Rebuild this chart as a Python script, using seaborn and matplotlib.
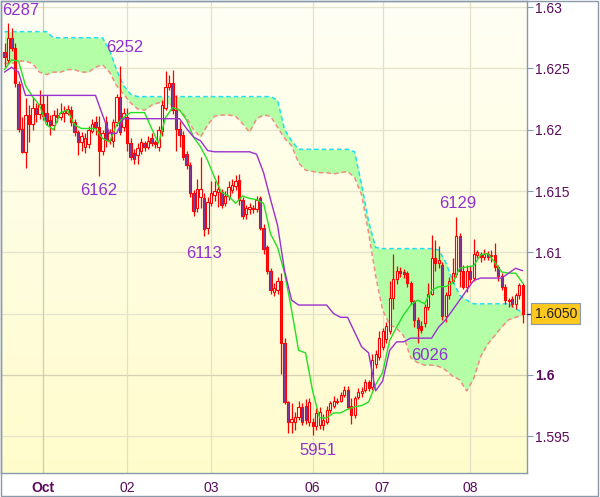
import numpy as np
import matplotlib
matplotlib.use("Agg")
import matplotlib.pyplot as plt
import matplotlib.transforms as mtransforms
from matplotlib.colors import LinearSegmentedColormap
from matplotlib.patches import Rectangle
import seaborn as sns

# hourly candles (bar 0 = first visible bar)
opens = [1.6263, 1.6257, 1.6275, 1.6267, 1.6237, 1.6201, 1.6182, 1.6212, 1.6205, 1.6218,
         1.6213, 1.6221, 1.6214, 1.6208, 1.6204, 1.6212, 1.6210, 1.6214, 1.6214, 1.6216,
         1.6206, 1.6198, 1.6190, 1.6186, 1.6188, 1.6199, 1.6206, 1.6202, 1.6183, 1.6206,
         1.6192, 1.6191, 1.6206, 1.6227, 1.6202, 1.6210, 1.6189, 1.6181, 1.6179, 1.6183,
         1.6189, 1.6186, 1.6193, 1.6190, 1.6186, 1.6199, 1.6218, 1.6235, 1.6238, 1.6216,
         1.6201, 1.6196, 1.6180, 1.6171, 1.6148, 1.6136, 1.6145, 1.6144, 1.6120, 1.6140,
         1.6147, 1.6149, 1.6149, 1.6140, 1.6146, 1.6151, 1.6154, 1.6159, 1.6143, 1.6131,
         1.6135, 1.6136, 1.6135, 1.6144, 1.6120, 1.6104, 1.6085, 1.6068, 1.6069, 1.6077,
         1.6026, 1.5978, 1.5962, 1.5962, 1.5966, 1.5974, 1.5975, 1.5962, 1.5962, 1.5958,
         1.5959, 1.5959, 1.5962, 1.5971, 1.5975, 1.5978, 1.5979, 1.5984, 1.5988, 1.5975,
         1.5967, 1.5982, 1.5985, 1.5988, 1.5994, 1.5990, 1.6009, 1.6015, 1.6023, 1.6029,
         1.6036, 1.6063, 1.6078, 1.6085, 1.6084, 1.6083, 1.6075, 1.6060, 1.6045, 1.6040,
         1.6042, 1.6055, 1.6066, 1.6095, 1.6091, 1.6090, 1.6048, 1.6065, 1.6077, 1.6082,
         1.6113, 1.6085, 1.6072, 1.6085, 1.6079, 1.6098, 1.6099, 1.6096, 1.6099, 1.6097,
         1.6098, 1.6088, 1.6081, 1.6072, 1.6061, 1.6062, 1.6058, 1.6065, 1.6073]
highs = [1.6271, 1.6287, 1.6283, 1.6271, 1.6240, 1.6210, 1.6226, 1.6220, 1.6227, 1.6222,
         1.6232, 1.6228, 1.6228, 1.6212, 1.6216, 1.6218, 1.6222, 1.6219, 1.6220, 1.6219,
         1.6209, 1.6200, 1.6198, 1.6197, 1.6203, 1.6209, 1.6211, 1.6211, 1.6200, 1.6211,
         1.6201, 1.6209, 1.6229, 1.6252, 1.6218, 1.6218, 1.6193, 1.6184, 1.6189, 1.6193,
         1.6191, 1.6195, 1.6197, 1.6192, 1.6203, 1.6224, 1.6248, 1.6245, 1.6249, 1.6228,
         1.6207, 1.6199, 1.6183, 1.6174, 1.6151, 1.6160, 1.6178, 1.6148, 1.6145, 1.6158,
         1.6158, 1.6163, 1.6152, 1.6150, 1.6158, 1.6160, 1.6163, 1.6164, 1.6145, 1.6139,
         1.6140, 1.6139, 1.6146, 1.6146, 1.6123, 1.6106, 1.6087, 1.6075, 1.6080, 1.6083,
         1.6030, 1.5979, 1.5977, 1.5970, 1.5979, 1.5977, 1.5980, 1.5981, 1.5965, 1.5973,
         1.5974, 1.5968, 1.5975, 1.5979, 1.5983, 1.5981, 1.5986, 1.5991, 1.5991, 1.5981,
         1.5983, 1.5989, 1.5990, 1.5997, 1.5996, 1.6017, 1.6020, 1.6036, 1.6038, 1.6043,
         1.6077, 1.6099, 1.6089, 1.6088, 1.6086, 1.6085, 1.6077, 1.6061, 1.6047, 1.6044,
         1.6058, 1.6075, 1.6114, 1.6110, 1.6105, 1.6092, 1.6068, 1.6080, 1.6095, 1.6129,
         1.6116, 1.6090, 1.6090, 1.6089, 1.6111, 1.6102, 1.6100, 1.6103, 1.6101, 1.6102,
         1.6108, 1.6090, 1.6083, 1.6074, 1.6063, 1.6064, 1.6067, 1.6075, 1.6075]
lows = [1.6251, 1.6254, 1.6264, 1.6235, 1.6198, 1.6181, 1.6169, 1.6190, 1.6200, 1.6206,
        1.6209, 1.6208, 1.6204, 1.6196, 1.6200, 1.6206, 1.6208, 1.6206, 1.6212, 1.6203,
        1.6195, 1.6179, 1.6183, 1.6181, 1.6185, 1.6197, 1.6196, 1.6162, 1.6179, 1.6186,
        1.6188, 1.6186, 1.6203, 1.6196, 1.6199, 1.6183, 1.6175, 1.6172, 1.6172, 1.6180,
        1.6183, 1.6184, 1.6187, 1.6185, 1.6183, 1.6195, 1.6216, 1.6232, 1.6213, 1.6183,
        1.6186, 1.6175, 1.6168, 1.6145, 1.6130, 1.6133, 1.6136, 1.6113, 1.6115, 1.6138,
        1.6142, 1.6137, 1.6136, 1.6138, 1.6143, 1.6148, 1.6151, 1.6139, 1.6127, 1.6127,
        1.6131, 1.6132, 1.6133, 1.6118, 1.6099, 1.6082, 1.6066, 1.6064, 1.6066, 1.6001,
        1.5976, 1.5953, 1.5953, 1.5955, 1.5963, 1.5959, 1.5960, 1.5958, 1.5951, 1.5955,
        1.5956, 1.5955, 1.5960, 1.5969, 1.5973, 1.5976, 1.5978, 1.5982, 1.5972, 1.5960,
        1.5965, 1.5980, 1.5982, 1.5986, 1.5987, 1.5988, 1.6006, 1.6012, 1.6020, 1.6026,
        1.6033, 1.6054, 1.6074, 1.6080, 1.6079, 1.6072, 1.6058, 1.6039, 1.6026, 1.6034,
        1.6039, 1.6053, 1.6065, 1.6085, 1.6087, 1.6045, 1.6043, 1.6062, 1.6075, 1.6080,
        1.6072, 1.6070, 1.6068, 1.6075, 1.6077, 1.6095, 1.6092, 1.6094, 1.6094, 1.6092,
        1.6085, 1.6077, 1.6069, 1.6058, 1.6055, 1.6055, 1.6054, 1.6062, 1.6042]
closes = [1.6259, 1.6275, 1.6267, 1.6238, 1.6201, 1.6182, 1.6212, 1.6205, 1.6218, 1.6213,
          1.6221, 1.6211, 1.6207, 1.6204, 1.6212, 1.6210, 1.6214, 1.6215, 1.6217, 1.6206,
          1.6198, 1.6190, 1.6195, 1.6193, 1.6200, 1.6205, 1.6202, 1.6183, 1.6197, 1.6192,
          1.6198, 1.6206, 1.6227, 1.6198, 1.6214, 1.6189, 1.6178, 1.6176, 1.6185, 1.6190,
          1.6186, 1.6191, 1.6189, 1.6188, 1.6200, 1.6220, 1.6235, 1.6238, 1.6216, 1.6201,
          1.6196, 1.6178, 1.6171, 1.6148, 1.6134, 1.6152, 1.6152, 1.6119, 1.6141, 1.6148,
          1.6150, 1.6152, 1.6139, 1.6146, 1.6153, 1.6155, 1.6158, 1.6143, 1.6130, 1.6136,
          1.6137, 1.6135, 1.6143, 1.6120, 1.6103, 1.6085, 1.6069, 1.6071, 1.6077, 1.6026,
          1.5978, 1.5962, 1.5964, 1.5966, 1.5974, 1.5962, 1.5963, 1.5978, 1.5958, 1.5969,
          1.5970, 1.5963, 1.5971, 1.5977, 1.5979, 1.5979, 1.5984, 1.5988, 1.5974, 1.5967,
          1.5981, 1.5986, 1.5987, 1.5994, 1.5989, 1.6012, 1.6017, 1.6030, 1.6036, 1.6040,
          1.6063, 1.6078, 1.6085, 1.6083, 1.6082, 1.6075, 1.6060, 1.6045, 1.6038, 1.6037,
          1.6055, 1.6066, 1.6095, 1.6091, 1.6094, 1.6048, 1.6065, 1.6077, 1.6083, 1.6113,
          1.6085, 1.6072, 1.6085, 1.6078, 1.6099, 1.6100, 1.6096, 1.6099, 1.6096, 1.6098,
          1.6088, 1.6081, 1.6072, 1.6061, 1.6060, 1.6058, 1.6065, 1.6073, 1.6050]

# ichimoku lines, read every second bar
tenkan = [1.6249, 1.6257, 1.6256, 1.6236, 1.6227, 1.6220, 1.6204, 1.6200, 1.6214, 1.6216,
          1.6204, 1.6201, 1.6201, 1.6201, 1.6193, 1.6190, 1.6204, 1.6210, 1.6214, 1.6214,
          1.6214, 1.6201, 1.6189, 1.6210, 1.6218, 1.6216, 1.6208, 1.6194, 1.6186, 1.6175,
          1.6161, 1.6149, 1.6146, 1.6140, 1.6146, 1.6144, 1.6143, 1.6140, 1.6115, 1.6104,
          1.6083, 1.6053, 1.6020, 1.6018, 1.5987, 1.5965, 1.5965, 1.5969, 1.5969, 1.5972,
          1.5974, 1.5975, 1.5978, 1.5992, 1.6002, 1.6028, 1.6039, 1.6049, 1.6057, 1.6061,
          1.6058, 1.6069, 1.6072, 1.6072, 1.6075, 1.6087, 1.6088, 1.6089, 1.6098, 1.6099,
          1.6092, 1.6084, 1.6083, 1.6083, 1.6075]
kijun = [1.6247, 1.6251, 1.6247, 1.6228, 1.6228, 1.6228, 1.6228, 1.6228, 1.6228, 1.6228,
         1.6228, 1.6228, 1.6228, 1.6228, 1.6212, 1.6197, 1.6197, 1.6209, 1.6209, 1.6209,
         1.6209, 1.6209, 1.6209, 1.6209, 1.6209, 1.6209, 1.6201, 1.6194, 1.6191, 1.6183,
         1.6182, 1.6182, 1.6182, 1.6182, 1.6182, 1.6182, 1.6180, 1.6165, 1.6143, 1.6122,
         1.6085, 1.6061, 1.6057, 1.6057, 1.6057, 1.6057, 1.6057, 1.6050, 1.6047, 1.6047,
         1.6035, 1.6023, 1.6018, 1.5987, 1.5995, 1.6020, 1.6027, 1.6027, 1.6030, 1.6030,
         1.6030, 1.6030, 1.6039, 1.6045, 1.6053, 1.6061, 1.6069, 1.6077, 1.6079, 1.6079,
         1.6079, 1.6079, 1.6083, 1.6087, 1.6085]
span_a = [1.6280, 1.6280, 1.6280, 1.6280, 1.6280, 1.6280, 1.6280, 1.6275, 1.6275, 1.6275,
          1.6275, 1.6275, 1.6275, 1.6275, 1.6275, 1.6265, 1.6249, 1.6236, 1.6229, 1.6227,
          1.6227, 1.6227, 1.6227, 1.6227, 1.6227, 1.6227, 1.6227, 1.6227, 1.6227, 1.6227,
          1.6227, 1.6227, 1.6227, 1.6227, 1.6227, 1.6227, 1.6227, 1.6227, 1.6227, 1.6224,
          1.6200, 1.6191, 1.6184, 1.6184, 1.6184, 1.6184, 1.6184, 1.6184, 1.6184, 1.6184,
          1.6182, 1.6155, 1.6125, 1.6104, 1.6103, 1.6103, 1.6103, 1.6103, 1.6103, 1.6103,
          1.6103, 1.6103, 1.6102, 1.6092, 1.6077, 1.6065, 1.6061, 1.6058, 1.6058, 1.6058,
          1.6058, 1.6058, 1.6058, 1.6054, 1.6051]
span_b = [1.6254, 1.6254, 1.6256, 1.6256, 1.6254, 1.6247, 1.6245, 1.6247, 1.6247, 1.6249,
          1.6249, 1.6247, 1.6247, 1.6251, 1.6253, 1.6247, 1.6236, 1.6229, 1.6222, 1.6217,
          1.6216, 1.6220, 1.6222, 1.6222, 1.6220, 1.6216, 1.6210, 1.6200, 1.6194, 1.6204,
          1.6211, 1.6212, 1.6212, 1.6211, 1.6205, 1.6198, 1.6209, 1.6212, 1.6211, 1.6202,
          1.6193, 1.6187, 1.6173, 1.6167, 1.6166, 1.6165, 1.6165, 1.6164, 1.6165, 1.6166,
          1.6161, 1.6147, 1.6116, 1.6081, 1.6053, 1.6041, 1.6038, 1.6032, 1.6014, 1.6010,
          1.6008, 1.6008, 1.6007, 1.6004, 1.5999, 1.5996, 1.5987, 1.5997, 1.6015, 1.6025,
          1.6032, 1.6039, 1.6045, 1.6047, 1.6049]

day_ticks = [11, 35, 59, 88, 108, 133]
day_labels = ['Oct', '02', '03', '06', '07', '08']
price_ticks = [1.595, 1.6, 1.605, 1.61, 1.615, 1.62, 1.625, 1.63]
price_labels = ['1.595', '1.6', '', '1.61', '1.615', '1.62', '1.625', '1.63']

# swing highs / lows that carry a label
pivot_bars = [1, 33, 27, 57, 88, 129, 118]
pivot_kind = ['high', 'high', 'low', 'low', 'low', 'high', 'low']

sns.set_style("white")
plt.rcParams['font.family'] = ['Liberation Sans', 'DejaVu Sans']

fig = plt.figure(figsize=(6, 4.97), dpi=100)
ax = fig.add_axes([1 / 600, 24 / 497, 525.5 / 600, 472 / 497])

n = len(closes)
bars = np.arange(n)
line_x = np.arange(0, n, 2)
o = np.array(opens)
c = np.array(closes)

# pale yellow gradient background
bg = LinearSegmentedColormap.from_list('bg', ['#FFFCCC', '#FFFFF5'])
ax.imshow(np.linspace(0, 1, 256).reshape(-1, 1), cmap=bg, origin='lower', aspect='auto',
          extent=[0, 1, 0, 1], transform=ax.transAxes, zorder=0)

# grid
for p in price_ticks:
    ax.axhline(p, color='#D4D2B0' if p == 1.6 else '#E6E4CC', lw=0.9, zorder=1)
for d in day_ticks:
    ax.axvline(d, color='#CFCDAE' if d == day_ticks[0] else '#E2E0C6', lw=0.9, zorder=1)

# cloud
ax.fill_between(line_x, span_b, span_a, color='#B4FFA6', lw=0, zorder=2)
ax.plot(line_x, span_a, color='#20E0EE', lw=1.1, ls=(0, (3, 2)), zorder=3)
ax.plot(line_x, span_b, color='#F28C84', lw=1.1, ls=(0, (3, 2)), zorder=3)

# candles
ax.vlines(bars, lows, highs, color='#FF0000', lw=0.9, zorder=4)
body_h = np.maximum(np.abs(c - o), 0.00003)
faces = ['#7040A8' if cl < op else '#FFFFF4' for op, cl in zip(opens, closes)]
ax.bar(bars, body_h, bottom=np.minimum(o, c), width=0.62, color=faces,
       edgecolor='#FF0000', linewidth=0.8, zorder=5)

# tenkan / kijun
sns.lineplot(x=line_x, y=tenkan, ax=ax, color='#22E022', lw=1.0, zorder=6)
sns.lineplot(x=line_x, y=kijun, ax=ax, color='#9A30D0', lw=1.0, zorder=6)

# pivot labels
offsets = [(13, 13), (5, 18), (0, -14), (0, -17), (5, -16), (2, 13), (12, -12)]
for b, kind, off in zip(pivot_bars, pivot_kind, offsets):
    val = highs[b] if kind == 'high' else lows[b]
    ax.annotate(f"{val:.4f}"[2:], xy=(b, val), xytext=off, textcoords='offset pixels',
                ha='center', va='center', color='#9030D0', fontsize=12, zorder=7)

ax.set_xlim(-1, 149.1)
ax.set_ylim(1.5920, 1.6305)
ax.set_xlabel('')
ax.set_ylabel('')

ax.yaxis.tick_right()
ax.set_yticks(price_ticks)
ax.set_yticklabels(price_labels)
ax.tick_params(axis='y', length=4, width=0.8, color='#8899AA', pad=2,
               labelsize=10, labelcolor='#5A0A5A')
ax.set_xticks(day_ticks)
ax.set_xticklabels(day_labels)
ax.tick_params(axis='x', length=3, width=0.8, color='#8899AA', pad=3,
               labelsize=10, labelcolor='#5A0A5A')
ax.get_xticklabels()[0].set_fontweight('bold')
ax.get_yticklabels()[1].set_fontweight('bold')

for sp in ax.spines.values():
    sp.set_color('#8899AA')
    sp.set_linewidth(1)

# last price tag
trans = mtransforms.blended_transform_factory(ax.transAxes, ax.transData)
ax.plot([1.0, 1.0 + 6 / 525.5], [closes[-1], closes[-1]], color='#333355', lw=1,
        transform=trans, clip_on=False, zorder=8)
ax.text(1.0 + 8 / 525.5, closes[-1], f"{closes[-1]:.4f}", transform=trans,
        ha='left', va='center', fontsize=10, color='#222222', clip_on=False, zorder=9,
        bbox=dict(boxstyle='square,pad=0.25', fc='#FFC81E', ec='#8899AA', lw=0.8))

# outer frame
fig.patches.append(Rectangle((0.5 / 600, 1.5 / 497), 597.5 / 600, 495 / 497,
                             transform=fig.transFigure, fill=False,
                             edgecolor='#8899AA', lw=1))

fig.savefig('out.png', dpi=100)
